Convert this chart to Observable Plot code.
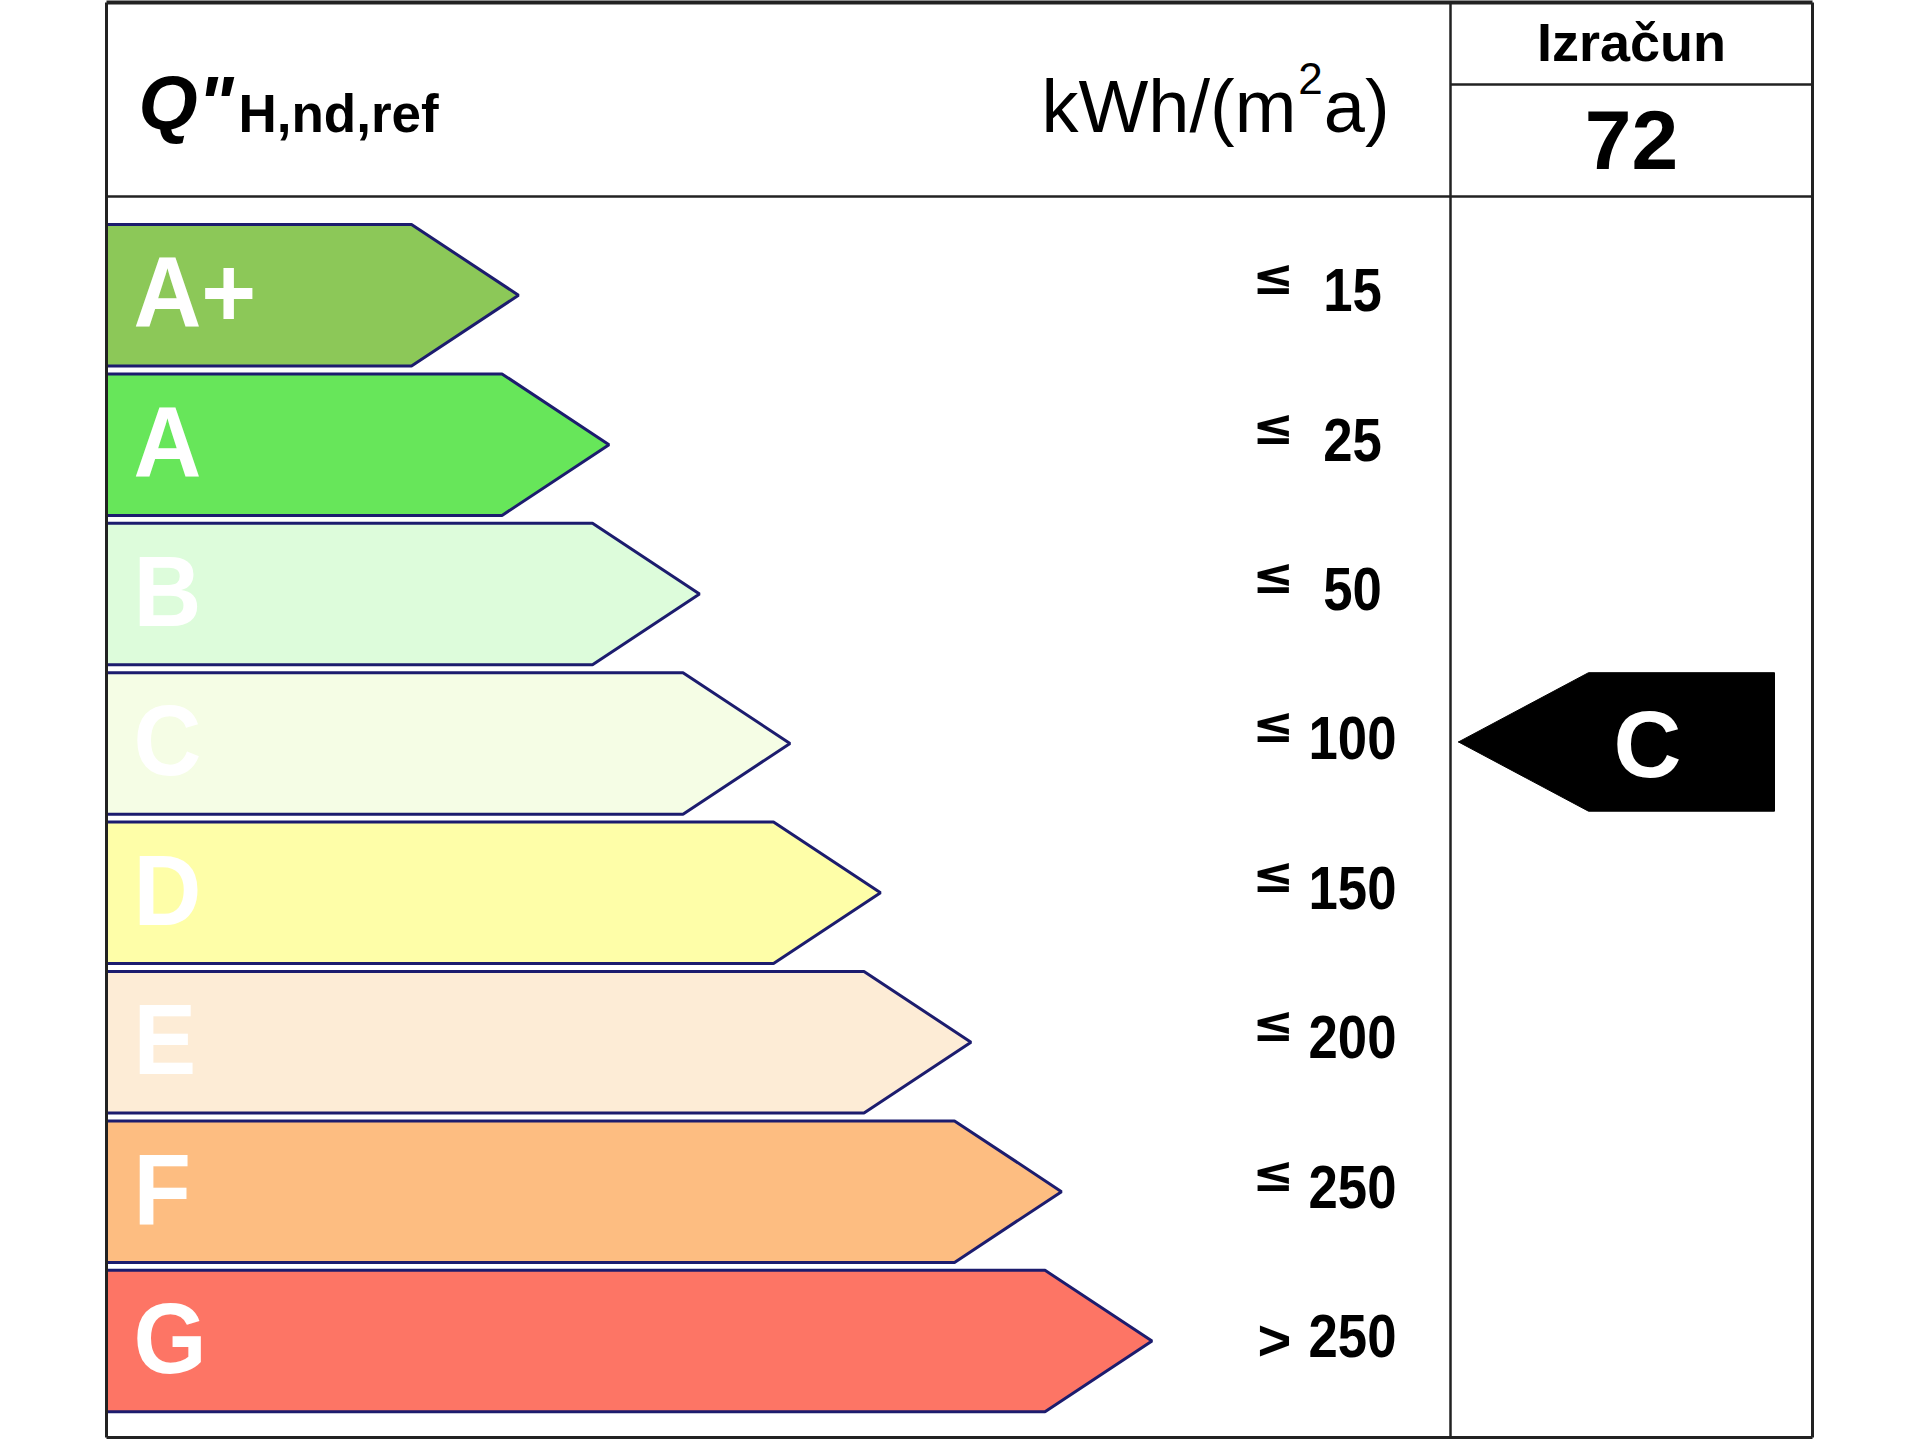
<!DOCTYPE html>
<html><head><meta charset="utf-8">
<script src="https://cdn.jsdelivr.net/npm/d3@7"></script>
<script src="https://cdn.jsdelivr.net/npm/@observablehq/plot@0.6"></script>
<style>html,body{margin:0;padding:0;background:#fff}svg{display:block}</style>
</head><body><div id="chart"></div>
<script>
// ---- data ----
const classes = ["A+", "A", "B", "C", "D", "E", "F", "G"];
const comparators = ["≤", "≤", "≤", "≤", "≤", "≤", "≤", ">"];
const thresholds = [15, 25, 50, 100, 150, 200, 250, 250];
const classColors = ["#8cc858", "#67e65a", "#ddfcdb", "#f5fde5", "#fefea8", "#fdecd6", "#fdbd81", "#fd7565"];
const calculatedValue = 72;
const titleMain = "Q\"";
const titleSub = "H,nd,ref";
const unitParts = ["kWh/(m", "2", "a)"];
const calcLabel = "Izračun";

// ---- layout ----
const W = 1920, H = 1440;
const L = {left: 106, right: 1812, top: 2, bottom: 1437, headerY: 196, divX: 1450, calcY: 84,
  row0: 224, pitch: 149.4, barH: 141.5, len0: 411, lenStep: 90.5, tip: 107,
  arrowTip: 1458, arrowBody: 1588, arrowEnd: 1774};
const FONT = "'Liberation Sans', Arial, Helvetica, sans-serif";
const SYM_FONT = "'DejaVu Sans', 'Liberation Sans', sans-serif";

const rows = classes.map((c, i) => {
  const t = L.row0 + i * L.pitch, b = t + L.barH;
  return {cls: c, i, cmp: comparators[i], thr: thresholds[i], color: classColors[i], t, b, m: (t + b) / 2,
    xr: L.len0 + i * L.lenStep};
});

const barPts = rows.flatMap(r => [[L.left, r.t], [r.xr, r.t], [r.xr + L.tip, r.m], [r.xr, r.b], [L.left, r.b], [L.left, r.t]]
  .map(([x, y]) => ({cls: r.cls, color: r.color, x, y})));

const ratedIndex = thresholds.findIndex((t, i) => comparators[i] === "≤" ? calculatedValue <= t : calculatedValue > t);
const rated = rows[ratedIndex];
const aT = rated.t, aB = rated.b - 3, aM = (aT + aB) / 2;
const arrowPts = [[L.arrowTip, aM], [L.arrowBody, aT], [L.arrowEnd, aT], [L.arrowEnd, aB], [L.arrowBody, aB], [L.arrowTip, aM]]
  .map(([x, y]) => ({x, y}));

const lines = [
  {x1: L.left, y1: L.top, x2: L.right, y2: L.top, w: 4},
  {x1: L.left, y1: L.bottom, x2: L.right, y2: L.bottom, w: 3},
  {x1: L.left, y1: L.top, x2: L.left, y2: L.bottom, w: 3},
  {x1: L.right, y1: L.top, x2: L.right, y2: L.bottom, w: 3},
  {x1: L.left, y1: L.headerY, x2: L.right, y2: L.headerY, w: 2.5},
  {x1: L.divX, y1: L.top, x2: L.divX, y2: L.bottom, w: 2.5},
  {x1: L.divX, y1: L.calcY, x2: L.right, y2: L.calcY, w: 2.5}
];

// text measuring for header chaining
const ctx = document.createElement("canvas").getContext("2d");
function tw(str, size, weight = "normal", style = "normal") {
  ctx.font = `${style} ${weight} ${size}px ${FONT}`;
  return ctx.measureText(str).width;
}
const qX = 138, qSize = 76, subSize = 53;
const subX = 238;
const unitSize = 74, supSize = 44;
const unitX0 = 1041;
const unitX1 = unitX0 + tw(unitParts[0], unitSize) + 2;
const unitX2 = unitX1 + tw(unitParts[1], supSize) + 1;
const unitTexts = [
  {s: unitParts[0], x: unitX0, y: 131, size: unitSize},
  {s: unitParts[1], x: unitX1, y: 93, size: supSize},
  {s: unitParts[2], x: unitX2, y: 131, size: unitSize}
];

const chart = Plot.plot({
  width: W, height: H, margin: 0,
  x: {domain: [0, W], range: [0, W], axis: null},
  y: {domain: [0, H], range: [0, H], axis: null},
  color: {type: "identity"},
  style: {background: "#fff", fontFamily: FONT},
  marks: [
    Plot.line(barPts, {x: "x", y: "y", z: "cls", fill: "color", stroke: "#1c1c6e", strokeWidth: 3, strokeLinejoin: "miter", curve: "linear"}),
    Plot.line(arrowPts, {x: "x", y: "y", fill: "#000", stroke: "#000", strokeWidth: 1, strokeLinejoin: "miter"}),
    Plot.link(lines, {x1: "x1", y1: "y1", x2: "x2", y2: "y2", strokeWidth: "w", stroke: "#222"}),
    // class letters
    Plot.text(rows, {x: 133, y: r => r.m + 32, text: "cls", fill: "#fff", fontSize: 100, fontWeight: "bold", textAnchor: "start", lineAnchor: "bottom"}),
    // comparators
    Plot.text(rows.filter(r => r.cmp === "≤"), {x: 1273, y: r => r.m - 1, text: "cmp", fill: "#000", fontFamily: SYM_FONT, fontSize: 50, fontWeight: "bold", textAnchor: "middle", lineAnchor: "bottom"}),
    Plot.text(rows.filter(r => r.cmp !== "≤"), {x: 1274, y: r => r.m + 19, text: "cmp", fill: "#000", fontSize: 58, fontWeight: "bold", textAnchor: "middle", lineAnchor: "bottom"}),
    // thresholds
    Plot.text(rows, {x: 1352, y: r => r.m + 16, text: r => String(r.thr), fill: "#000", fontSize: 62, fontWeight: "bold", textAnchor: "middle", lineAnchor: "bottom"}),
    // header
    Plot.text([titleMain], {x: qX, y: 128, text: d => d, fontSize: qSize, fontWeight: "bold", fontStyle: "italic", textAnchor: "start", lineAnchor: "bottom", fill: "#000"}),
    Plot.text([titleSub], {x: subX, y: 131, text: d => d, fontSize: subSize, fontWeight: "bold", textAnchor: "start", lineAnchor: "bottom", fill: "#000"}),
    Plot.text(unitTexts, {x: "x", y: "y", text: "s", fontSize: "size", textAnchor: "start", lineAnchor: "bottom", fill: "#000"}),
    Plot.text([calcLabel], {x: 1631, y: 60, text: d => d, fontSize: 54, fontWeight: "bold", textAnchor: "middle", lineAnchor: "bottom", fill: "#000"}),
    Plot.text([calculatedValue], {x: 1631, y: 168, text: d => String(d), fontSize: 84, fontWeight: "bold", textAnchor: "middle", lineAnchor: "bottom", fill: "#000"}),
    Plot.text([rated], {x: 1647, y: aM + 35, text: "cls", fontSize: 94, fontWeight: "bold", textAnchor: "middle", lineAnchor: "bottom", fill: "#fff"})
  ]
});
document.getElementById("chart").appendChild(chart);

// condense numerals and class letters horizontally, as in the reference
const numSet = new Set(thresholds.map(String));
const clsSet = new Set(classes);
d3.select(chart).selectAll("text").each(function() {
  const s = this.textContent;
  let k = null;
  if (numSet.has(s)) k = 0.85;
  else if (clsSet.has(s) && this.getAttribute("transform")) {
    const g = this.parentNode;
    const anchor = this.getAttribute("text-anchor") || g.getAttribute("text-anchor");
    if (anchor === "start") k = 0.94;
  }
  if (k != null) {
    const t = this.getAttribute("transform") || "";
    this.setAttribute("transform", `${t} scale(${k},1)`);
  }
});
</script>
</body></html>
